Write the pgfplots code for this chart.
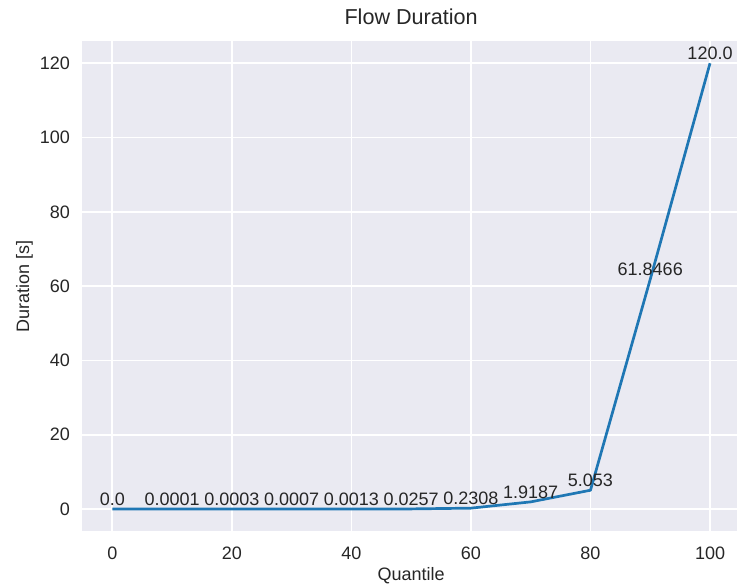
\documentclass[border=0pt]{standalone}
\usepackage{fontspec}
\setmainfont{Liberation Sans}
\usepackage{pgfplots}
\pgfplotsset{compat=1.18}
\definecolor{bgc}{HTML}{EAEAF2}
\definecolor{txt}{HTML}{262626}
\definecolor{lineblue}{HTML}{1F77B4}
\begin{document}
\begin{tikzpicture}[x=1pt,y=1pt]
\useasboundingbox (0,0) rectangle (737,585);
\begin{axis}[
  at={(82.4pt,53.7pt)}, anchor=south west,
  scale only axis, width=657.5pt, height=490.3pt,
  xmin=-5, xmax=105, ymin=-6, ymax=126,
  xtick={0,20,40,60,80,100}, ytick={0,20,40,60,80,100,120},
  grid=major, grid style={white, line width=1.7pt},
  axis background/.style={fill=bgc},
  axis line style={draw=none},
  major tick length=0pt,
  tick label style={font=\fontsize{18}{21}\selectfont, text=txt},
  /pgf/number format/assume math mode=true,
  xticklabel style={anchor=base, inner sep=0pt, yshift=-28.5pt},
  yticklabel style={anchor=east, inner sep=0pt, xshift=-12.4pt},
  title={Flow Duration},
  title style={at={(axis description cs:0.5,1.0204)}, anchor=base, inner sep=0pt, font=\fontsize{21.6}{25}\selectfont, text=txt},
  xlabel={Quantile},
  xlabel style={at={(axis description cs:0.5,-0.0999)}, anchor=base, inner sep=0pt, font=\fontsize{18}{21}\selectfont, text=txt},
  ylabel={Duration [s]},
  ylabel style={at={(axis description cs:-0.0812,0.5)}, rotate=0, anchor=base, inner sep=0pt, font=\fontsize{18}{21}\selectfont, text=txt},
]
\addplot[lineblue, line width=2.7pt, line join=round,
  nodes near coords={\pgfplotspointmeta},
  point meta=explicit symbolic,
  every node near coord/.style={anchor=base, yshift=3.5pt, inner sep=0pt, font=\fontsize{18}{21}\selectfont, text=txt}]
  table[meta=label] {
x y label
0 0 0.0
10 0.0001 0.0001
20 0.0003 0.0003
30 0.0007 0.0007
40 0.0013 0.0013
50 0.0257 0.0257
60 0.2308 0.2308
70 1.9187 1.9187
80 5.053 5.053
90 61.8466 61.8466
100 120.0 120.0
};
\end{axis}
\end{tikzpicture}
\end{document}
